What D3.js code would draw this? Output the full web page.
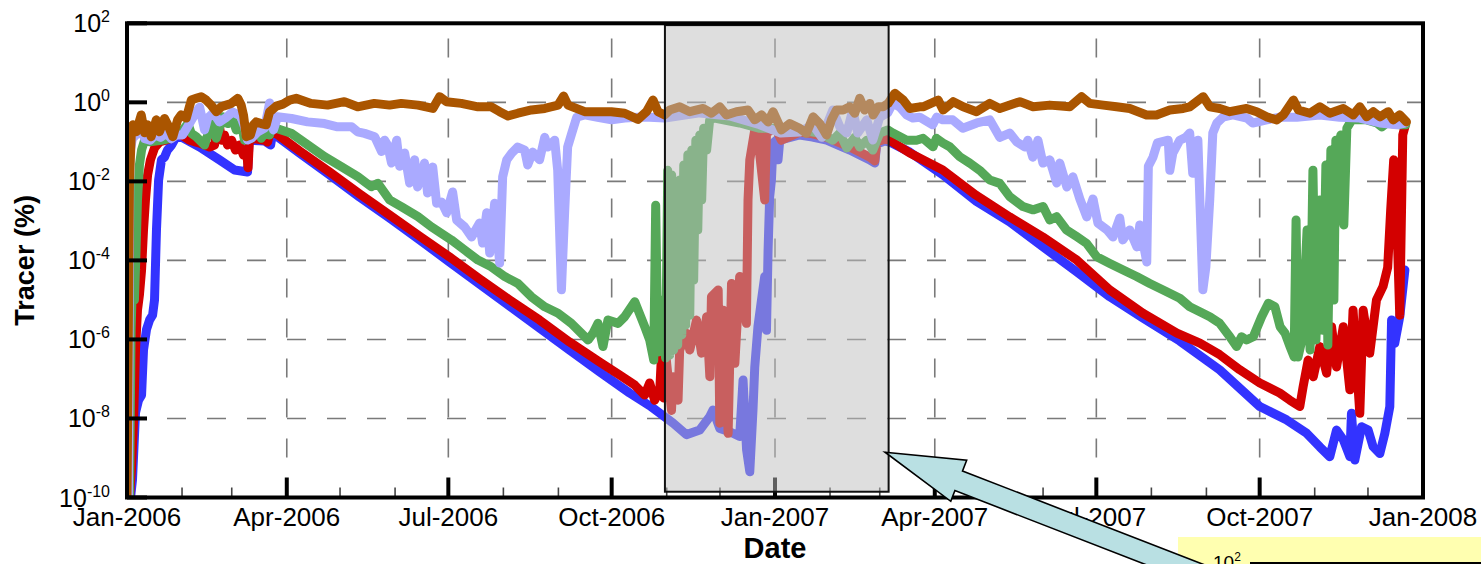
<!DOCTYPE html>
<html>
<head>
<meta charset="utf-8">
<script src="https://cdn.jsdelivr.net/npm/d3@7/dist/d3.min.js"></script>
<style>
  html, body { margin: 0; padding: 0; background: #ffffff; }
  svg { display: block; font-family: "Liberation Sans", Arial, Helvetica, sans-serif; }
</style>
</head>
<body>
<svg id="chart" width="1481" height="564"></svg>
<script>
// Tracer concentration (%) at the monitoring wells.
// Each record: [days since 1 Jan 2006, tracer %]
const brownWell = [[0,1e-10],[1.4,0.01],[2.4,0.15],[3.3,0.27],[5.2,0.18],[8,0.48],[9.9,0.17],[11.7,0.27],[13.6,0.135],[16.5,0.36],[18.3,0.18],[21.1,0.39],[23,0.27],[25.8,0.135],[28.5,0.36],[30.5,0.48],[33.4,0.40],[36.2,1.14],[39,1.26],[41.8,1.39],[44.6,1.14],[47.4,0.85],[50.3,0.58],[53.1,0.77],[55.9,0.85],[58.7,0.94],[62.4,1.26],[64.3,0.85],[65.6,0.48],[67.2,0.135],[69.5,0.149],[71.2,0.27],[72.8,0.32],[75.6,0.29],[78.4,0.27],[80.3,0.57],[84.1,0.80],[87.8,0.90],[91.6,1.14],[95.3,1.26],[103.7,0.94],[113,0.85],[122.4,1.04],[129.9,0.77],[139.3,0.94],[147.9,0.85],[154.5,0.94],[163.9,0.85],[172.3,0.70],[176.1,1.39],[179.9,1.04],[188.3,0.94],[197.7,0.77],[205.2,0.77],[209.9,0.58],[214.6,0.45],[220.2,0.53],[227.8,0.64],[235.3,0.70],[242.8,0.85],[245.9,1.44],[248.4,0.85],[257.8,0.58],[265.3,0.58],[272.8,0.58],[280.3,0.53],[287.8,0.37],[292.6,0.58],[296.3,1.14],[299.1,0.58],[302.9,0.48],[305.7,0.64],[311.3,0.77],[317,0.58],[324.5,0.70],[329.2,0.53],[333.9,0.77],[337.6,0.48],[343.3,0.58],[349.8,0.64],[353.6,0.36],[357.4,0.48],[361.1,0.32],[363.9,0.58],[368.6,0.20],[373.3,0.29],[378.9,0.22],[382.7,0.164],[386.5,0.43],[390.2,0.29],[394,0.149],[396.8,0.36],[399.6,0.64],[403.4,0.64],[407.1,0.77],[409.9,0.53],[412.7,1.26],[415.5,0.64],[418.4,0.94],[420.3,0.48],[423.1,0.77],[425.9,0.77],[428.7,0.94],[432.5,1.69],[437.2,1.14],[440.9,0.70],[446.5,0.77],[448.4,0.77],[456.9,1.14],[459.7,0.64],[465.4,1.04],[471,0.77],[478.5,0.58],[486,0.94],[491.6,0.70],[502.9,1.04],[510.4,0.77],[519.8,0.85],[531,0.77],[537.7,1.39],[542.3,0.94],[549.9,0.85],[557.4,0.77],[564.8,0.70],[574.3,0.48],[579.9,0.48],[587.4,0.64],[594.9,0.70],[598.6,0.77],[606.2,1.39],[609.9,0.77],[615.5,0.70],[621.2,0.58],[630.6,0.70],[636.3,0.58],[641.9,0.43],[647.6,0.36],[651.3,0.48],[657,1.14],[659.8,0.64],[666.3,0.53],[671.9,0.77],[677.5,0.53],[685.1,0.70],[690.7,0.48],[694.4,0.77],[698.3,0.43],[702,0.58],[705.7,0.43],[710.4,0.58],[713.2,0.36],[716.9,0.48],[720.7,0.32]];

const lavenderWell = [[0.8,1e-10],[1.6,0.05],[3,0.12],[5,0.15],[8,0.2],[10,0.12],[13,0.11],[16,0.15],[19,0.13],[22,0.17],[25,0.12],[28,0.15],[31.3,0.149],[34.1,0.24],[38,0.48],[40.9,0.76],[43.7,0.20],[45.4,0.40],[48.7,0.54],[52.1,0.32],[56.1,0.42],[59.5,0.57],[64,0.45],[66.2,0.24],[67.9,0.111],[70.2,0.125],[73.5,0.177],[77.5,0.223],[80.3,0.96],[82.5,0.20],[84.8,0.43],[92.7,0.39],[101.7,0.32],[111.3,0.29],[118.6,0.24],[126.5,0.24],[129.9,0.18],[133.8,0.164],[139.5,0.135],[143.4,0.057],[145.1,0.11],[146.8,0.083],[149,0.029],[151.9,0.11],[153.6,0.024],[156.4,0.052],[159.2,0.0091],[162,0.035],[163.7,0.0072],[167.6,0.029],[169.3,0.0051],[172.2,0.023],[174.4,0.0028],[177.2,0.003],[180.1,0.0016],[183.4,0.0054],[185.7,0.00105],[190.2,7e-4],[194.1,3.9e-4],[198.6,8.8e-4],[200.3,2.75e-4],[202.6,1.6e-3],[204.3,1.54e-4],[207.1,2.8e-3],[209.9,8.6e-5],[211.6,0.013],[213.9,0.035],[216.7,0.052],[220.1,0.074],[224,0.062],[225.7,0.026],[228.5,0.055],[232.4,0.035],[235.3,0.13],[237,0.074],[240.9,0.11],[242.6,0.019],[244.7,1.8e-5],[246.5,1.6e-3],[248.2,0.074],[250.5,0.164],[253.3,0.42],[257.8,0.48],[265.1,0.42],[273,0.36],[280.3,0.40],[287.7,0.42],[294.4,0.42],[302.9,0.40],[322.6,0.54],[339.5,0.45],[356.4,0.27],[368.2,0.167],[378.9,0.177],[386.3,0.27],[391.4,0.13],[397.6,0.64],[401.5,0.24],[405.4,0.167],[408.8,0.64],[411.6,0.167],[416.7,0.36],[420.1,0.111],[424,0.42],[428.5,0.54],[431.4,0.96],[435.3,0.76],[439.2,0.48],[442.6,0.40],[446.5,0.42],[453.8,0.27],[456.1,0.42],[459.5,0.36],[465.1,0.36],[470.8,0.22],[478.7,0.30],[486,0.36],[491.6,0.13],[497.2,0.167],[501.2,0.099],[505.7,0.074],[507.4,0.11],[510.2,0.041],[513.1,0.11],[515.9,0.029],[519.8,0.035],[523.7,0.0091],[525.4,0.029],[529.4,0.0072],[532.8,0.013],[536.7,0.0036],[540.6,0.00126],[544.1,0.0036],[546.9,8.8e-4],[552,5.9e-4],[555.4,3.9e-4],[559.2,1.18e-3],[560.9,3.3e-4],[564.8,5.9e-4],[568.8,2.2e-4],[570.5,7.9e-4],[574.4,9.1e-5],[575.3,0.024],[577.9,0.041],[580.4,0.094],[586.5,0.11],[587.4,0.019],[589.1,0.052],[593,0.11],[596.4,0.13],[598.6,0.167],[600.3,0.016],[603.2,0.11],[606,1.8e-5],[607.7,6.8e-5],[609.9,0.0036],[611.6,0.167],[613.9,0.30],[617.3,0.42],[622.9,0.48],[630.8,0.40],[634.1,0.30],[642,0.36],[649.3,0.42],[658.9,0.42],[671.9,0.48],[683.1,0.42],[694.4,0.40],[705.7,0.30],[715.3,0.27],[719.8,0.30]];

const greenWell = [[1.4,1e-10],[2.3,1.7e-6],[3.1,3.2e-5],[4.2,1e-5],[5.1,1.8e-4],[5.9,3.4e-3],[7,0.026],[8.2,0.062],[9.9,0.11],[12.7,0.10],[19.3,0.11],[24.9,0.123],[31.4,0.20],[34.3,0.29],[36.2,0.164],[39,0.135],[43.7,0.083],[47.4,0.29],[50.3,0.123],[54,0.43],[56.8,0.29],[58.7,0.48],[61.5,0.20],[64.4,0.29],[66.2,0.11],[70,0.123],[73.7,0.20],[75.6,0.123],[77.5,0.164],[80.3,0.149],[81.3,0.24],[92.5,0.165],[101.9,0.083],[111.3,0.042],[120.7,0.0235],[130,0.0132],[137.6,0.0073],[141.3,0.0089],[147.9,0.0034],[154.5,0.0023],[163.9,0.00128],[171.4,7.1e-4],[182.7,3.3e-4],[190.2,1.83e-4],[197.7,1.02e-4],[205.2,6.9e-5],[212.8,3.9e-5],[220.2,2.6e-5],[227.8,1.2e-5],[235.3,6.7e-6],[242.8,4.6e-6],[250.3,2.55e-6],[255.9,1.43e-6],[259.7,9.7e-7],[262.5,1.43e-6],[265.3,2.55e-6],[268.1,6.6e-7],[270.9,3.1e-6],[276.6,2.55e-6],[280.3,3.75e-6],[286,9e-6],[287.9,5.5e-6],[291.6,2.1e-6],[294.4,9.7e-7],[296.7,3e-7],[297.8,2.5e-3],[299,4.8e-7],[300.6,1e-5],[301.8,1.7e-6],[303.4,3.4e-7],[304.6,0.019],[305.7,4e-7],[306.8,0.0145],[307.9,5.4e-7],[309.1,0.006],[310.2,7.2e-7],[311.3,0.0108],[312.5,1.3e-6],[313.6,0.026],[314.7,2.3e-6],[315.9,0.047],[317,4.1e-6],[318.1,0.062],[319.2,3.2e-5],[320.4,0.11],[321.5,5.9e-4],[322.6,0.149],[323.7,3.4e-3],[324.8,0.22],[326.5,0.062],[328.2,0.36],[331,0.40],[345.1,0.30],[356.4,0.22],[367.7,0.22],[378.9,0.20],[390.2,0.167],[397.6,0.11],[401.5,0.167],[405.4,0.07],[409.9,0.13],[412.7,0.074],[416.7,0.11],[420.1,0.062],[424,0.167],[428.5,0.20],[431.4,0.167],[439.2,0.11],[444.7,0.11],[448.4,0.123],[454,0.075],[455.9,0.123],[459.7,0.093],[463.4,0.075],[469.1,0.042],[474.7,0.029],[480.3,0.019],[486,0.0108],[491.6,0.0089],[497.2,0.0041],[504.7,0.0023],[510.4,0.0019],[516,0.0023],[519.8,0.00105],[523.6,0.00128],[529.2,5.9e-4],[534.9,4e-4],[540.5,2.7e-4],[546.2,1.24e-4],[553.6,8.4e-5],[561.1,5.7e-5],[568.7,3.9e-5],[576.1,2.6e-5],[583.6,1.78e-5],[593,1.1e-5],[598.6,6.7e-6],[604.3,5e-6],[609.9,3.75e-6],[615.5,2.55e-6],[621.2,1.17e-6],[625,6.6e-7],[627.8,1.17e-6],[630.6,9.7e-7],[634.4,1.17e-6],[639.1,3.75e-6],[642.9,8.2e-6],[646.6,6.7e-6],[649.5,2.1e-6],[652.3,1.43e-6],[655.1,6.6e-7],[657.4,3.6e-7],[658.5,1.05e-3],[659.6,3.6e-7],[661.8,9.7e-7],[664.7,5.9e-4],[666.4,5.4e-7],[668,0.019],[669.7,9.7e-7],[671.9,3.4e-3],[673.6,1.7e-6],[675.3,0.026],[676.4,7.2e-7],[678.1,0.062],[679.8,1e-5],[680.9,0.11],[682.1,0.006],[683.7,0.149],[685.4,7.9e-4],[687.1,0.22],[689.9,0.36],[694.4,0.36],[698.3,0.36],[704,0.30],[706.8,0.24],[709.6,0.30],[716.9,0.27],[720.3,0.27]];

const redWell = [[1.4,1e-10],[2.5,5e-10],[3.7,9e-9],[4.8,5.4e-7],[5.9,5.5e-6],[7,1.33e-5],[8.2,5.7e-5],[9.3,5.9e-4],[10.4,3.4e-3],[11.6,0.0145],[13.2,0.035],[15.5,0.07],[18.3,0.099],[21.7,0.11],[25.1,0.125],[28.5,0.16],[29.6,0.16],[35.2,0.11],[40.9,0.093],[46.5,0.074],[49.3,0.083],[51,0.20],[52.1,0.24],[53.3,0.11],[54.9,0.149],[56.6,0.083],[58.9,0.11],[61.1,0.062],[63.4,0.083],[65.6,0.046],[67.3,0.062],[68.2,0.022],[69,0.125],[77.5,0.11],[79.2,0.099],[80.9,0.20],[82,0.19],[97.2,0.059],[114.1,0.0173],[131,0.0048],[147.9,0.00141],[164.8,4.1e-4],[181.7,1.22e-4],[198.6,3.4e-5],[215.5,1e-5],[232.4,3.1e-6],[249.3,8.6e-7],[266.2,2.7e-7],[277.5,1.26e-7],[286,7e-8],[291.6,3.9e-8],[294.4,7.9e-8],[297.2,2.9e-8],[300.1,5.3e-8],[301.2,5.4e-7],[302.3,3.3e-8],[303.8,3e-7],[306.7,1.6e-8],[307.6,1.14e-7],[310.4,2.9e-8],[311.3,5.4e-7],[315.1,1.43e-6],[317,5.4e-7],[320.8,3.1e-6],[323.6,4.5e-7],[326.5,3.75e-6],[328.3,1.14e-7],[329.2,1.2e-5],[333,1.78e-5],[333.9,7.6e-9],[335.8,5.5e-6],[338.6,4.2e-9],[340.5,2.6e-5],[342.4,2.5e-7],[345.1,3.9e-5],[348.9,2.55e-6],[349.8,3.4e-3],[350.8,0.035],[353.6,0.20],[355,0.18],[359.2,3.4e-3],[360.2,0.164],[363,0.20],[365.8,0.20],[368.6,0.11],[378.9,0.177],[386.2,0.16],[394.1,0.13],[401.5,0.094],[407.1,0.074],[412.7,0.0555],[418.4,0.041],[421.2,0.033],[422.3,0.099],[426.8,0.118],[429.6,0.11],[440.9,0.052],[459.5,0.0194],[478.1,0.0045],[497.2,0.00126],[515.9,3.9e-4],[535,1.02e-4],[553.6,1.78e-5],[572.2,4.6e-6],[591.4,1.45e-6],[604.3,8.1e-7],[615.5,4.1e-7],[626.8,1.7e-7],[638.1,7.9e-8],[649.3,4.4e-8],[655,2.9e-8],[660.6,2e-8],[662.5,6.4e-8],[665.3,3e-7],[668.2,1.14e-7],[671.9,6.6e-7],[675.7,1.4e-7],[678.5,2.1e-6],[681.3,2e-7],[685.1,2.1e-6],[688.8,5.3e-8],[690.6,5.5e-6],[694.4,1.35e-8],[696.3,5.5e-6],[700,4.5e-7],[703.8,1e-5],[707.5,2.2e-5],[710.1,6.6e-5],[711.8,1.9e-3],[713.5,0.035],[714.9,3.4e-3],[716.9,4.1e-6],[718,3.4e-3],[718.6,0.15],[719.8,0.24]];

const blueWell = [[2,1e-10],[3.1,2.8e-10],[4.8,1.4e-8],[6.5,2.9e-8],[8.2,3.9e-8],[9.3,5.4e-7],[11,1.8e-6],[12.7,3.1e-6],[14.4,4.1e-6],[15.5,1e-5],[16.6,5.9e-4],[17.8,0.0108],[19.4,0.035],[21.1,0.041],[22.8,0.062],[25.1,0.083],[27.3,0.125],[29.6,0.14],[40.9,0.074],[52.1,0.035],[60.6,0.0194],[67.9,0.0173],[68.8,0.11],[77.5,0.105],[80.9,0.083],[82,0.167],[97.2,0.052],[114.1,0.0145],[131,0.004],[147.9,0.00118],[164.8,3.3e-4],[181.7,9.1e-5],[198.6,2.5e-5],[215.5,7e-6],[232.4,1.94e-6],[249.3,5.4e-7],[266.2,1.5e-7],[283.1,4.4e-8],[294.4,2.1e-8],[302.9,1.1e-8],[307.6,7.6e-9],[315.1,3.9e-9],[322.6,5.1e-9],[328.2,1.1e-8],[330.1,1.64e-8],[333.9,5.6e-9],[339.5,4.6e-9],[345.1,3.5e-9],[347,9.4e-8],[349,1.6e-9],[350.8,4.5e-10],[352.6,1.64e-8],[353.6,2e-7],[355.4,2.1e-6],[357.4,1e-5],[359.2,3.9e-5],[360.2,1.7e-6],[361.1,1.8e-4],[362,4.1e-3],[363,0.0108],[363.9,0.093],[365.8,0.11],[366.7,0.035],[367.7,0.11],[378.9,0.149],[386.2,0.132],[394.1,0.11],[401.5,0.079],[407.1,0.062],[412.7,0.0465],[418.4,0.035],[421.2,0.029],[422.3,0.088],[426.8,0.105],[429.6,0.099],[440.9,0.055],[459.7,0.0145],[478.5,0.0031],[497.2,9.4e-4],[516,2.2e-4],[535,5.1e-5],[553.6,1.2e-5],[572.2,3.5e-6],[593,9.1e-7],[615.5,1.7e-7],[638.1,2e-8],[653.2,9.2e-9],[664.5,4.2e-9],[671.9,1.9e-9],[677.5,1.08e-9],[681.3,5.1e-9],[685.1,2.9e-9],[688.8,1.08e-9],[689.7,1.35e-8],[691.6,8.9e-10],[695.4,6.2e-9],[699.1,5.1e-9],[701.9,1.93e-9],[705.7,1.3e-9],[708.5,4.2e-9],[711.3,2e-8],[712.3,3.1e-6],[714.1,8e-7],[716.9,3.75e-6],[719.8,5.7e-5]];

// Series drawn back to front
const seriesOrder = [
  { data: blueWell,     color: "#3333ff" },
  { data: redWell,      color: "#d30000" },
  { data: greenWell,    color: "#55a858" },
  { data: lavenderWell, color: "#aaaaff" },
  { data: brownWell,    color: "#aa5500" }
];

// Axis ticks
const yTickExponents = [2, 0, -2, -4, -6, -8, -10];
const yGridExponents = [0, -2, -4, -6, -8];
const quarterTicks = ["2006-01-01","2006-04-01","2006-07-01","2006-10-01","2007-01-01","2007-04-01","2007-07-01","2007-10-01","2008-01-01"];

// Highlighted period and its callout
const highlightPeriod = ["2006-10-31", "2007-03-06"];
const highlightRange = [1.4e-10, 90];
const calloutTip = { day: 427, value: 1.4e-9 };

const parse = d3.timeParse("%Y-%m-%d");
const startDate = new Date(2006, 0, 1);
const dayToDate = d => new Date(startDate.getTime() + d * 86400000);
const fmt = d3.timeFormat("%b-%Y");

const svg = d3.select("#chart");
const x = d3.scaleTime()
  .domain([parse("2006-01-01"), parse("2008-01-01")])
  .range([127, 1423]);
const y = d3.scaleLog()
  .domain([1e-10, 1e2])
  .range([497.5, 23.3]);

const [xl, xr] = x.range();
const [yb, yt] = y.range();

svg.append("defs").append("clipPath").attr("id", "plotClip")
  .append("rect").attr("x", xl).attr("y", yt).attr("width", xr - xl).attr("height", yb - yt);

// Dashed grid
const grid = svg.append("g").attr("stroke", "#7a7a7a").attr("stroke-width", 1.6)
  .attr("stroke-dasharray", "19,21").attr("fill", "none");
yGridExponents.forEach(e => {
  grid.append("line").attr("x1", xl).attr("x2", xr)
    .attr("y1", y(Math.pow(10, e))).attr("y2", y(Math.pow(10, e)));
});
quarterTicks.slice(1, -1).forEach(s => {
  const px = x(parse(s));
  grid.append("line").attr("x1", px).attr("x2", px).attr("y1", yb).attr("y2", yt);
});

// Tracer curves
const line = d3.line()
  .x(d => x(dayToDate(d[0])))
  .y(d => y(d[1]));
const curves = svg.append("g").attr("clip-path", "url(#plotClip)");
seriesOrder.forEach(s => {
  curves.append("path")
    .datum(s.data)
    .attr("d", line)
    .attr("fill", "none")
    .attr("stroke", s.color)
    .attr("stroke-width", 9)
    .attr("stroke-linejoin", "round")
    .attr("stroke-linecap", "round");
});

// Tick marks
const ticks = svg.append("g");
const months = d3.timeMonth.range(parse("2006-01-01"), parse("2008-01-02"));
months.forEach(m => {
  const px = x(m);
  const major = m.getMonth() % 3 === 0;
  ticks.append("line")
    .attr("x1", px).attr("x2", px)
    .attr("y1", yb).attr("y2", yb - (major ? 20 : 10))
    .attr("stroke", major ? "#000" : "#444")
    .attr("stroke-width", major ? 4 : 1.6);
});
yTickExponents.forEach(e => {
  const py = y(Math.pow(10, e));
  ticks.append("line").attr("x1", xl).attr("x2", xl + 20)
    .attr("y1", py).attr("y2", py).attr("stroke", "#000").attr("stroke-width", 4);
});

// Highlighted period, drawn as a translucent panel
const hx0 = x(parse(highlightPeriod[0])), hx1 = x(parse(highlightPeriod[1]));
const hy0 = y(highlightRange[1]), hy1 = y(highlightRange[0]);
svg.append("rect")
  .attr("x", hx0).attr("y", hy0).attr("width", hx1 - hx0).attr("height", hy1 - hy0)
  .attr("fill", "#bdbdbd").attr("fill-opacity", 0.5);
svg.append("rect")
  .attr("x", hx0).attr("y", hy0).attr("width", hx1 - hx0).attr("height", hy1 - hy0)
  .attr("fill", "none").attr("stroke", "#111").attr("stroke-width", 2);

// Plot frame
svg.append("rect")
  .attr("x", xl).attr("y", yt).attr("width", xr - xl).attr("height", yb - yt)
  .attr("fill", "none").attr("stroke", "#000").attr("stroke-width", 4);

// Y tick labels (powers of ten)
const yLabels = svg.append("g").attr("fill", "#000");
yTickExponents.forEach(e => {
  const py = y(Math.pow(10, e));
  const t = yLabels.append("text")
    .attr("x", 110).attr("y", py + 9)
    .attr("text-anchor", "end")
    .attr("font-size", 25);
  t.append("tspan").text("10");
  t.append("tspan").attr("font-size", 16).attr("dy", -10).text(String(e));
});

// X tick labels
const xLabels = svg.append("g").attr("fill", "#000");
quarterTicks.forEach(s => {
  xLabels.append("text")
    .attr("x", x(parse(s))).attr("y", 526)
    .attr("text-anchor", "middle")
    .attr("font-size", 26)
    .text(fmt(parse(s)));
});

// Axis titles
svg.append("text")
  .attr("x", (xl + xr) / 2).attr("y", 558)
  .attr("text-anchor", "middle")
  .attr("font-size", 29).attr("font-weight", "bold")
  .text("Date");
svg.append("text")
  .attr("transform", `translate(34,${(yt + yb) / 2}) rotate(-90)`)
  .attr("text-anchor", "middle")
  .attr("font-size", 27).attr("font-weight", "bold")
  .text("Tracer (%)");

// Inset panel peeking in at the lower right
const inset = svg.append("g");
inset.append("rect").attr("x", 1178).attr("y", 537).attr("width", 303).attr("height", 40).attr("fill", "#ffffb0");
const insetLabel = inset.append("text").attr("x", 1213).attr("y", 569).attr("font-size", 19).attr("fill", "#000");
insetLabel.append("tspan").text("10");
insetLabel.append("tspan").attr("font-size", 12).attr("dy", -8).text("2");
inset.append("line").attr("x1", 1250).attr("x2", 1481).attr("y1", 563).attr("y2", 563)
  .attr("stroke", "#000").attr("stroke-width", 2);

// Callout arrow pointing at the highlighted period
const tipX = x(dayToDate(calloutTip.day)), tipY = y(calloutTip.value);
const headLen = 79, headHalf = 22, shaftHalf = 10.5, arrowLen = 380;
const arrowShape = [[0,0],[headLen,-headHalf],[headLen,-shaftHalf],[arrowLen,-shaftHalf],
                    [arrowLen,shaftHalf],[headLen,shaftHalf],[headLen,headHalf]];
svg.append("polygon")
  .attr("points", arrowShape.map(p => p.join(",")).join(" "))
  .attr("transform", `translate(${tipX},${tipY}) rotate(21.2)`)
  .attr("fill", "#b9e0e3")
  .attr("stroke", "#000")
  .attr("stroke-width", 1.6)
  .attr("stroke-linejoin", "miter");
</script>
</body>
</html>
